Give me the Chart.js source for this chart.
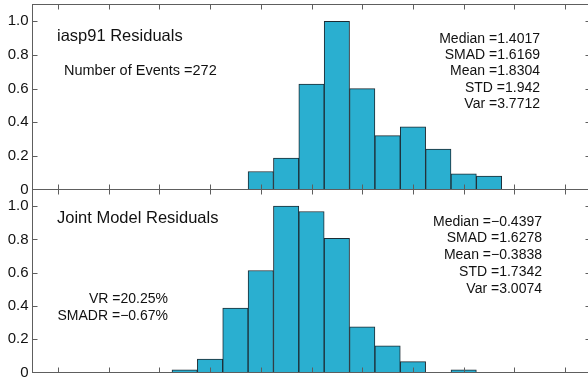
<!DOCTYPE html>
<html>
<head>
<meta charset="utf-8">
<script src="https://cdn.jsdelivr.net/npm/chart.js@4.4.1/dist/chart.umd.min.js"></script>
<style>
  html, body { margin: 0; padding: 0; background: #fff; }
  #wrap { position: relative; width: 588px; height: 377px; overflow: hidden; }
  #wrap canvas { position: absolute; left: 0; }
</style>
</head>
<body>
<div id="wrap">
  <canvas id="top-hist" width="600" height="200" style="top:0"></canvas>
  <canvas id="bottom-hist" width="600" height="192" style="top:185px"></canvas>
</div>
<script>
// residual bins (bin centres, 1 unit wide)
const topBins = [-2, -1, 0, 1, 2, 3, 4, 5, 6, 7];
const topValues = [0.107, 0.187, 0.627, 1.0, 0.6, 0.32, 0.373, 0.24, 0.093, 0.08];

const bottomBins = [-5, -4, -3, -2, -1, 0, 1, 2, 3, 4, 5, 6];
const bottomValues = [0.016, 0.081, 0.387, 0.613, 1.0, 0.968, 0.806, 0.274, 0.161, 0.065, 0, 0.016];

const xTickValues = [-10, -8, -6, -4, -2, 0, 2, 4, 6, 8, 10];
const yTickValues = [0, 0.2, 0.4, 0.6, 0.8, 1.0];

const topTitle = "iasp91 Residuals";
const topNote = ["Number of Events =272"];
const topStats = ["Median =1.4017", "SMAD =1.6169", "Mean =1.8304", "STD =1.942", "Var =3.7712"];

const bottomTitle = "Joint Model Residuals";
const bottomNote = ["VR =20.25%", "SMADR =\u22120.67%"];
const bottomStats = ["Median =\u22120.4397", "SMAD =1.6278", "Mean =\u22120.3838", "STD =1.7342", "Var =3.0074"];

const FONT = "'Liberation Sans', Arial, sans-serif";
const BAR_FILL = "#2aafd0";
const BAR_EDGE = "#1d2b33";
const FRAME = "#5e5e5e";

// frame, inward tick marks and the text blocks
function framePlugin(texts) {
  return {
    id: "frame",
    afterDraw(chart) {
      const ctx = chart.ctx;
      const a = chart.chartArea;
      const xs = chart.scales.x, ys = chart.scales.y;
      ctx.save();
      ctx.strokeStyle = FRAME;
      ctx.lineWidth = 1;
      ctx.strokeRect(a.left, a.top, a.right - a.left, a.bottom - a.top);
      ctx.beginPath();
      xTickValues.forEach(v => {
        const px = Math.round(xs.getPixelForValue(v)) + 0.5;
        ctx.moveTo(px, a.bottom); ctx.lineTo(px, a.bottom - 5);
        ctx.moveTo(px, a.top); ctx.lineTo(px, a.top + 5);
      });
      yTickValues.forEach(v => {
        if (v === 0) return;
        const py = Math.round(ys.getPixelForValue(v)) + 0.5;
        ctx.moveTo(a.left, py); ctx.lineTo(a.left + 5, py);
        ctx.moveTo(a.right, py); ctx.lineTo(a.right - 5, py);
      });
      ctx.stroke();

      ctx.fillStyle = "#111";
      ctx.textBaseline = "middle";
      texts.forEach(t => {
        ctx.font = t.size + "px " + FONT;
        ctx.textAlign = t.align;
        t.lines.forEach((s, i) => ctx.fillText(s, t.x, t.y + i * t.step));
      });
      ctx.restore();
    }
  };
}

function makeHist(id, bins, values, padTop, padBottom, texts) {
  return new Chart(document.getElementById(id), {
    type: "bar",
    data: {
      datasets: [{
        data: bins.map((b, i) => ({ x: b, y: values[i] })),
        backgroundColor: BAR_FILL,
        borderColor: BAR_EDGE,
        borderWidth: 1,
        barPercentage: 1,
        categoryPercentage: 1
      }]
    },
    options: {
      responsive: false,
      animation: false,
      events: [],
      layout: { padding: { left: 0, right: 9.5, top: padTop, bottom: padBottom } },
      plugins: { legend: { display: false }, tooltip: { enabled: false } },
      scales: {
        x: {
          type: "linear",
          display: false,
          offset: false,
          grid: { offset: false },
          min: -11,
          max: 11
        },
        y: {
          min: 0,
          max: 1.1,
          grid: { display: false, drawTicks: false },
          border: { display: false },
          afterFit(scale) {
            scale.width = 32.5;
            scale.paddingTop = 0;
            scale.paddingBottom = 0;
          },
          ticks: {
            stepSize: 0.2,
            includeBounds: false,
            padding: 4,
            color: "#111",
            font: { family: FONT, size: 15 },
            callback: v => (Math.abs(v) < 1e-9 ? "0" : Number(v).toFixed(1))
          }
        }
      }
    },
    plugins: [framePlugin(texts)]
  });
}

makeHist("top-hist", topBins, topValues, 4.5, 10.5, [
  { lines: [topTitle], x: 57, y: 36, step: 0, size: 16.5, align: "left" },
  { lines: topNote, x: 64, y: 71, step: 0, size: 14.5, align: "left" },
  { lines: topStats, x: 540, y: 39, step: 16.3, size: 14, align: "right" }
]);

makeHist("bottom-hist", bottomBins, bottomValues, 4.5, 4.5, [
  { lines: [bottomTitle], x: 57, y: 33, step: 0, size: 16.5, align: "left" },
  { lines: bottomNote, x: 168, y: 114, step: 17.5, size: 14, align: "right" },
  { lines: bottomStats, x: 542, y: 36.7, step: 16.8, size: 14, align: "right" }
]);
</script>
</body>
</html>
